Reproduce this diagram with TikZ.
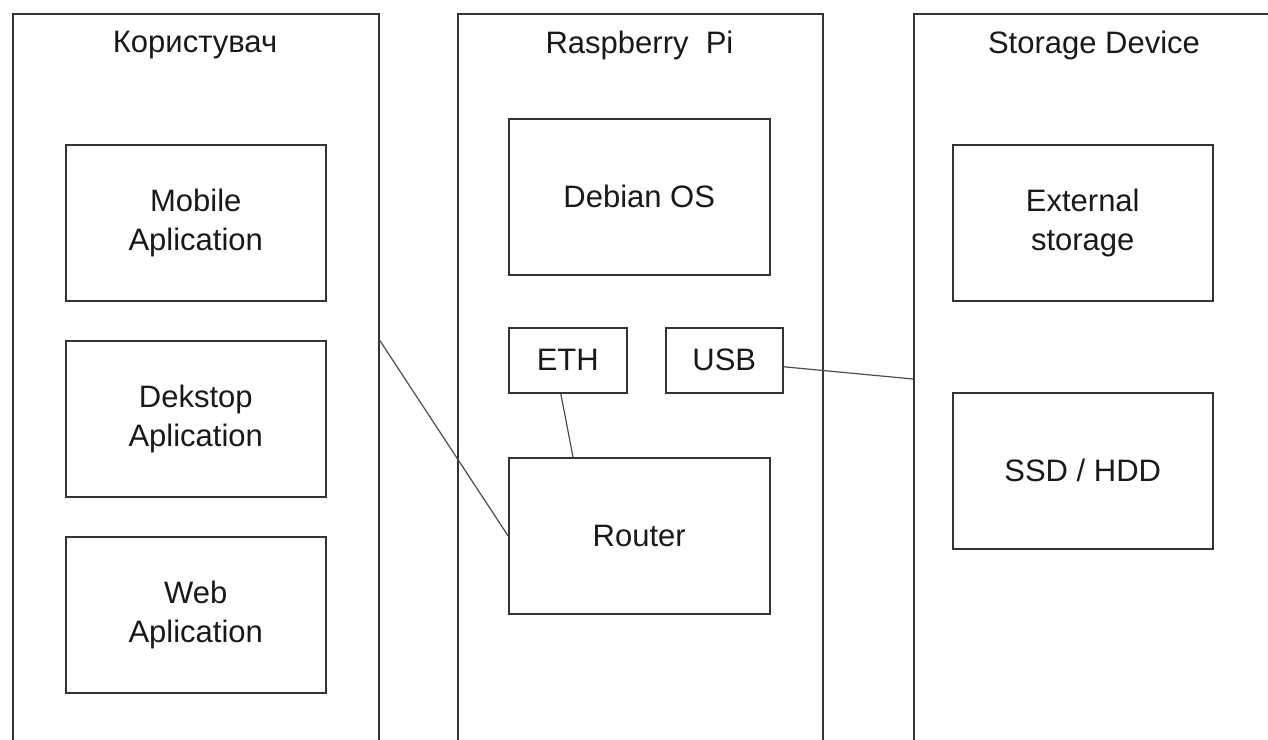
\documentclass[tikz,border=0pt]{standalone}
\usepackage{fontspec}
\setmainfont{Liberation Sans}
\usetikzlibrary{calc}
\tikzset{
  colbox/.style={draw=black!80, line width=1.5pt, anchor=north west, inner sep=0pt},
  itembox/.style={draw=black!80, line width=1.5pt, anchor=north west, inner sep=0pt,
    align=center, text=black!90, font=\fontsize{31}{39}\selectfont},
  coltitle/.style={text=black!90, font=\fontsize{31}{39}\selectfont},
  link/.style={draw=black!70, line width=1.2pt}
}
\begin{document}
\begin{tikzpicture}[x=1pt,y=-1pt]
\useasboundingbox (0,0) rectangle (1268,739);
\clip (0,0) rectangle (1268,739);
% columns
\node[colbox, minimum width=366pt, minimum height=800pt] (user) at (12,13) {};
\node[colbox, minimum width=365pt, minimum height=800pt] (rpi) at (457,13) {};
\node[colbox, minimum width=366pt, minimum height=800pt] (stor) at (913,13) {};
\node[coltitle] (usert) at (195,45) {Користувач};
\node[coltitle] (rpit) at (639.5,45) {Raspberry\ \ Pi};
\node[coltitle] (stort) at (1094,45) {Storage Device};
% user column
\node[itembox, minimum width=260pt, minimum height=156pt] (mobile) at (65,144) {Mobile\\Aplication};
\node[itembox, minimum width=260pt, minimum height=156pt] (desktop) at (65,340) {Dekstop\\Aplication};
\node[itembox, minimum width=260pt, minimum height=156pt] (web) at (65,536) {Web\\Aplication};
% raspberry column
\node[itembox, minimum width=261pt, minimum height=156pt] (debian) at (508,118) {Debian OS};
\node[itembox, minimum width=118pt, minimum height=65pt] (eth) at (508,327) {ETH};
\node[itembox, minimum width=117pt, minimum height=65pt] (usb) at (665,327) {USB};
\node[itembox, minimum width=261pt, minimum height=156pt] (router) at (508,457) {Router};
% storage column
\node[itembox, minimum width=260pt, minimum height=156pt] (ext) at (952,144) {External\\storage};
\node[itembox, minimum width=260pt, minimum height=156pt] (ssd) at (952,392) {SSD / HDD};
% connectors
\coordinate (userport) at (user.north east |- 0,340);
\coordinate (storport) at (stor.north west |- 0,379);
\draw[link] (userport) -- (router.west);
\draw[link] ($(eth.south)+(-7,0)$) -- ($(router.north west)+(65,0)$);
\draw[link] ($(usb.east)+(0,6.5)$) -- (storport);
\end{tikzpicture}
\end{document}
